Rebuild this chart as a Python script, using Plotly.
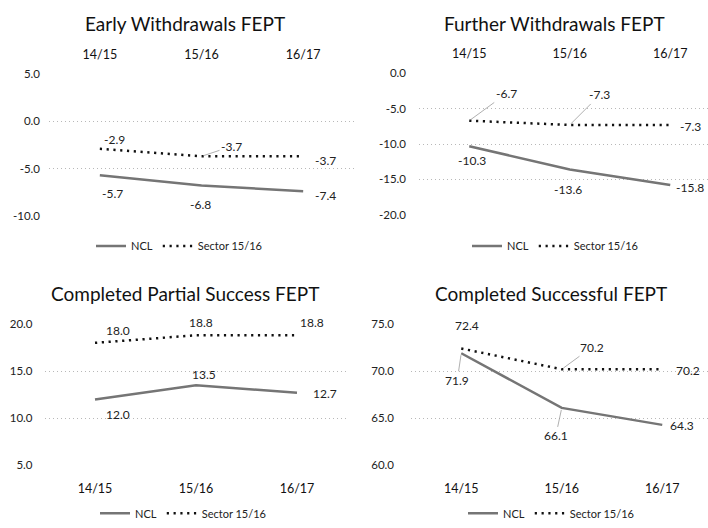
import plotly.graph_objects as go

# Reporting periods
periods = ["14/15", "15/16", "16/17"]

# Early withdrawals FEPT
early_ncl = [-5.7, -6.8, -7.4]
early_sector = [-2.9, -3.7, -3.7]

# Further withdrawals FEPT
further_ncl = [-10.3, -13.6, -15.8]
further_sector = [-6.7, -7.3, -7.3]

# Completed partial success FEPT
partial_ncl = [12.0, 13.5, 12.7]
partial_sector = [18.0, 18.8, 18.8]

# Completed successful FEPT
success_ncl = [71.9, 66.1, 64.3]
success_sector = [72.4, 70.2, 70.2]

titles = [
    "Early Withdrawals FEPT",
    "Further Withdrawals FEPT",
    "Completed Partial Success FEPT",
    "Completed Successful FEPT",
]

W, H = 708, 528
FONT = "Lato, 'Open Sans', sans-serif"
NCL_COLOR = "#757575"
SECTOR_COLOR = "#111111"
TEXT = "#222222"

panels = [
    dict(ncl=early_ncl, sector=early_sector, yr=[-10, 5], side="top",
         xd=[49 / W, 354 / W], xr=[-0.5, 2.5], yd=[1 - 214 / H, 1 - 69 / H],
         title_xy=(185, 17), legend_xy=(179, 245), ystand=8,
         # (dx, dy, leader) offsets of the value labels in pixels
         ncl_off=[(13, 18, False), (-1, 19, False), (22, 4, False)],
         sec_off=[(15, -9, False), (30, -10, True), (22, 4, False)]),
    dict(ncl=further_ncl, sector=further_sector, yr=[-20, 0], side="top",
         xd=[419 / W, 1.0], xr=[-0.5, -0.5 + (W - 419) / 100.5],
         yd=[1 - 213 / H, 1 - 68 / H],
         title_xy=(554, 17), legend_xy=(555, 245), ystand=12,
         ncl_off=[(3, 14, False), (-2, 20, False), (20, 2, False)],
         sec_off=[(37, -27, True), (30, -30, True), (20, 2, False)]),
    dict(ncl=partial_ncl, sector=partial_sector, yr=[5, 20], side="bottom",
         xd=[44.5 / W, 347.5 / W], xr=[-0.5, 2.5], yd=[1 - 470 / H, 1 - 325 / H],
         title_xy=(185, 294), legend_xy=(183, 519), ystand=11,
         ncl_off=[(23, 15, False), (8, -11, False), (28, 1, False)],
         sec_off=[(23, -12, False), (5, -13, False), (15, -13, False)]),
    dict(ncl=success_ncl, sector=success_sector, yr=[60, 75], side="bottom",
         xd=[411 / W, 1.0], xr=[-0.5, -0.5 + (W - 411) / 100.5],
         yd=[1 - 470 / H, 1 - 325 / H],
         title_xy=(551, 294), legend_xy=(551, 519), ystand=16,
         ncl_off=[(-4, 27, True), (-6, 28, True), (20, 1, False)],
         sec_off=[(6, -23, False), (30, -22, True), (26, 1, False)]),
]


def fmt(v):
    # plain hyphen-minus, one decimal place
    return f"{v:.1f}"


fig = go.Figure()
annotations = []
layout = dict(
    width=W, height=H,
    margin=dict(l=0, r=0, t=0, b=0),
    paper_bgcolor="white", plot_bgcolor="white",
    font=dict(family=FONT, size=11, color=TEXT),
)

for i, p in enumerate(panels, start=1):
    sfx = "" if i == 1 else str(i)
    xa, ya = f"x{sfx}", f"y{sfx}"
    leg = "legend" if i == 1 else f"legend{i}"

    fig.add_trace(go.Scatter(
        x=periods, y=p["ncl"], mode="lines", name="NCL",
        line=dict(color=NCL_COLOR, width=2.5),
        xaxis=xa, yaxis=ya, legend=leg, hoverinfo="skip",
    ))
    fig.add_trace(go.Scatter(
        x=periods, y=p["sector"], mode="lines", name="Sector 15/16",
        line=dict(color=SECTOR_COLOR, width=2.5, dash="2.2px,4.6px"),
        xaxis=xa, yaxis=ya, legend=leg, hoverinfo="skip",
    ))

    lo, hi = p["yr"]
    yticks = list(range(lo, hi + 1, 5))
    layout[f"xaxis{sfx}"] = dict(
        domain=p["xd"], range=p["xr"], anchor=ya, side=p["side"],
        type="category", showgrid=False, zeroline=False, showline=False,
        ticks="", ticklabelstandoff=12 if p["side"] == "top" else 14,
        tickfont=dict(size=12.5, color="#111111", family=FONT),
        fixedrange=True,
    )
    layout[f"yaxis{sfx}"] = dict(
        domain=p["yd"], range=p["yr"], anchor=xa,
        tickvals=yticks, ticktext=[fmt(t) for t in yticks],
        showgrid=True, gridcolor="#b8b8b8", griddash="1px,3px", gridwidth=1,
        zeroline=False, showline=False, ticks="",
        ticklabelstandoff=p["ystand"],
        tickfont=dict(size=11.5, color=TEXT, family=FONT), fixedrange=True,
    )

    lx, ly = p["legend_xy"]
    layout[leg] = dict(
        orientation="h", x=lx / W, y=1 - ly / H, xanchor="center",
        yanchor="middle", font=dict(size=11, color=TEXT, family=FONT),
        bgcolor="rgba(0,0,0,0)", itemclick=False, itemdoubleclick=False,
        tracegroupgap=0,
    )

    tx, ty = p["title_xy"]
    annotations.append(dict(
        text=titles[i - 1], x=tx / W, y=1 - ty / H, xref="paper",
        yref="paper", xanchor="center", yanchor="middle", showarrow=False,
        font=dict(size=19, color="#111111", family=FONT),
    ))

    # value labels
    for vals, offs in ((p["ncl"], p["ncl_off"]), (p["sector"], p["sec_off"])):
        for cat, v, (dx, dy, leader) in zip(periods, vals, offs):
            base = dict(x=cat, y=v, xref=xa, yref=ya, text=fmt(v),
                        font=dict(size=12, color=TEXT, family=FONT))
            if leader:
                base.update(showarrow=True, arrowhead=0, arrowwidth=0.8,
                            arrowcolor="#9a9a9a", ax=dx, ay=dy, standoff=2)
            else:
                base.update(showarrow=False, xshift=dx, yshift=-dy)
            annotations.append(base)

layout["annotations"] = annotations
fig.update_layout(**layout)
fig.write_html("out.html")
